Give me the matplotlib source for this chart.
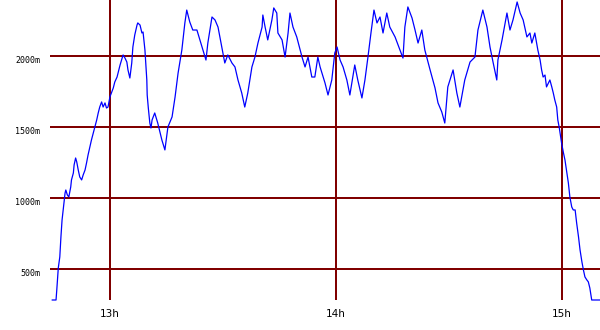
import matplotlib
matplotlib.use("Agg")
import matplotlib.pyplot as plt

# elevation profile: time in minutes after 12:00, elevation in metres
minutes = [44.7, 45.7, 45.9, 46.3, 46.7, 47.0, 47.3, 47.6, 48.1, 48.3, 48.7, 49.1,
           49.6, 49.8, 50.3, 50.5, 50.9, 51.2, 51.6, 52.0, 52.5, 52.9, 53.4, 53.8,
           54.2, 54.7, 55.1, 55.6, 56.0, 56.5, 56.9, 57.3, 57.8, 58.2, 58.7, 59.1,
           59.5, 60.0, 60.5, 60.9, 61.3, 61.9, 62.7, 63.5, 64.0, 64.5, 64.8, 65.3,
           65.8, 66.1, 66.6, 67.2, 67.4, 68.0, 68.5, 68.8, 69.3, 69.8, 69.9, 70.2,
           70.6, 70.9, 71.2, 71.9, 72.7, 73.8, 74.6, 75.4, 76.5, 77.3, 78.1, 79.1,
           79.9, 80.4, 81.2, 82.0, 83.1, 83.9, 84.7, 85.5, 86.0, 87.1, 87.9, 88.7,
           89.2, 90.0, 90.5, 91.3, 92.4, 93.2, 94.0, 95.0, 95.8, 96.6, 97.7, 98.5,
           99.3, 100.4, 100.6, 101.2, 101.9, 103.0, 103.5, 104.3, 104.6, 105.7, 106.5,
           107.3, 107.8, 108.6, 109.6, 111.0, 111.8, 112.6, 113.6, 114.4, 115.2, 115.8,
           117.1, 117.9, 118.9, 119.7, 120.3, 121.1, 121.9, 122.9, 123.7, 125.0, 125.8,
           126.9, 127.7, 128.5, 129.3, 130.1, 130.9, 131.7, 132.5, 133.5, 134.3, 135.7,
           137.0, 137.8, 138.3, 139.1, 140.2, 141.0, 141.8, 142.8, 143.6, 145.0, 146.3,
           147.1, 148.1, 148.9, 149.7, 151.1, 152.1, 152.9, 154.2, 155.6, 156.9, 157.7,
           159.0, 160.1, 160.9, 161.7, 162.7, 163.0, 164.1, 165.4, 166.2, 167.0, 168.1,
           168.9, 169.7, 170.7, 171.5, 172.0, 172.8, 173.6, 174.2, 174.6, 175.0, 175.5,
           175.9, 176.4, 176.8, 177.3, 177.7, 178.1, 178.6, 178.9, 179.3, 179.9, 180.4,
           180.8, 181.3, 181.7, 182.1, 182.6, 183.0, 183.5, 183.9, 184.4, 184.8, 185.3,
           185.7, 186.1, 186.6, 187.0, 187.4, 187.9, 190.1]
elevation = [280, 280, 351, 506, 584, 725, 845, 916, 1036, 1057, 1022, 1008,
             1078, 1128, 1177, 1234, 1283, 1255, 1198, 1149, 1128, 1163, 1198, 1248,
             1304, 1361, 1410, 1460, 1502, 1552, 1601, 1643, 1679, 1643, 1672, 1636,
             1643, 1714, 1749, 1778, 1820, 1855, 1940, 2011, 1989, 1961, 1905, 1848,
             1954, 2067, 2152, 2222, 2237, 2222, 2166, 2173, 2046, 1834, 1728, 1636,
             1530, 1495, 1552, 1601, 1530, 1410, 1340, 1502, 1573, 1714, 1883, 2046,
             2237, 2328, 2244, 2187, 2187, 2117, 2046, 1975, 2095, 2279, 2258, 2208,
             2138, 2025, 1954, 2011, 1954, 1926, 1834, 1742, 1643, 1742, 1926, 1996,
             2095, 2208, 2293, 2208, 2117, 2258, 2343, 2307, 2166, 2117, 1996,
             2166, 2307, 2208, 2138, 1996, 1926, 1996, 1855, 1855, 1996, 1926,
             1813, 1728, 1834, 2025, 2067, 1975, 1926, 1834, 1728, 1940, 1834,
             1707, 1834, 1996, 2166, 2328, 2237, 2279, 2166, 2307, 2208, 2138,
             2046, 1989, 2208, 2350, 2272, 2187, 2095, 2187, 2046, 1905, 1778,
             1672, 1608, 1530, 1785, 1905, 1742, 1643, 1834, 1961, 1996, 2187,
             2328, 2208, 2067, 1961, 1834, 1975, 2117, 2307, 2187, 2258, 2385,
             2307, 2258, 2138, 2166, 2095, 2166, 2046, 1975, 1905, 1855, 1869,
             1785, 1813, 1834, 1785, 1742, 1693, 1643, 1552, 1495, 1389, 1319,
             1269, 1177, 1107, 1008, 937, 916, 916, 824, 725, 634, 549,
             492, 443, 422, 408, 365, 280, 280]

x_ticks = [60, 120, 180]
x_labels = ["13h", "14h", "15h"]
y_ticks = [500, 1000, 1500, 2000]
y_labels = ["500m", "1000m", "1500m", "2000m"]

GRID = "#800000"

fig = plt.figure(figsize=(6, 3.3), dpi=100)
ax = fig.add_axes([50 / 600, 30 / 330, 550 / 600, 300 / 330])

ax.plot(minutes, elevation, color="#0000ff", lw=0.9, clip_on=False, zorder=3)

ax.set_xlim(44.1, 190.1)
ax.set_ylim(280, 2399)
for s in ax.spines.values():
    s.set_visible(False)

ax.set_xticks(x_ticks)
ax.set_xticklabels(x_labels, fontsize=7.5, family="DejaVu Sans")
ax.set_yticks(y_ticks)
ax.set_yticklabels(y_labels, fontsize=6, family="DejaVu Sans Mono")
ax.tick_params(axis="x", length=0, pad=6.5)
ax.tick_params(axis="y", length=0, pad=7)
for lab in ax.get_yticklabels():
    lab.set_va("top")
ax.grid(True, color=GRID, lw=1.4, antialiased=False)
ax.set_axisbelow(True)

fig.savefig("out.png", dpi=100)
